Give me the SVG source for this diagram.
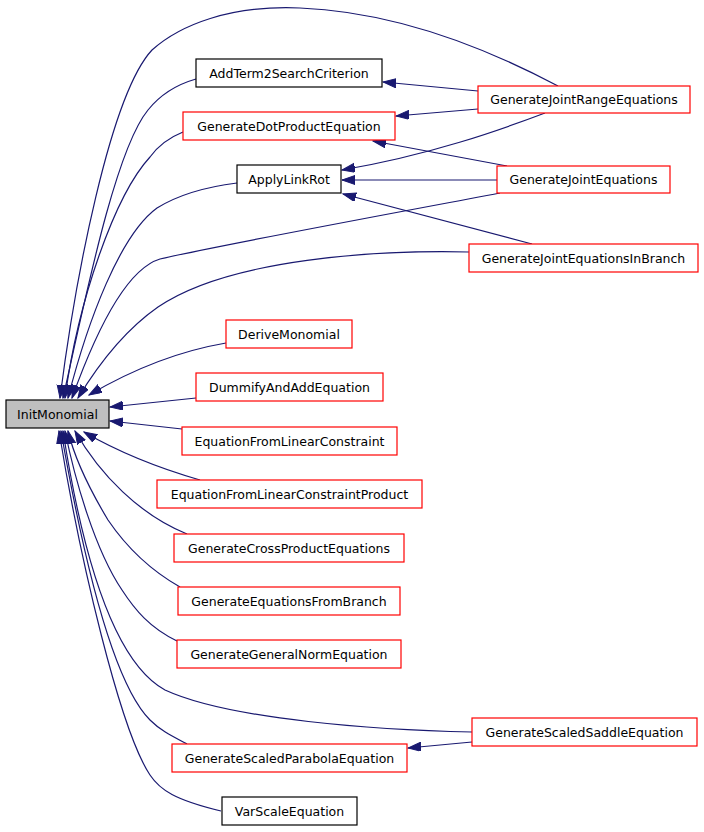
<svg xmlns="http://www.w3.org/2000/svg" width="704" height="832" viewBox="0 0 704 832">
<style>
.n rect{fill:#ffffff;stroke-width:1.2}
.r rect{stroke:#ff0000}
.b rect{stroke:#000000}
.g rect{fill:#bfbfbf;stroke:#000000}
.n text{font-family:"DejaVu Sans",Verdana,sans-serif;font-size:12.5px;fill:#000000;text-anchor:middle}
.e path{fill:none;stroke:#191970;stroke-width:1.2;marker-end:url(#ah)}
</style>
<defs>
<marker id="ah" markerUnits="userSpaceOnUse" markerWidth="14" markerHeight="10" refX="13" refY="4.5" orient="auto">
<path d="M0,0 L13,4.5 L0,9 z" fill="#191970" stroke="#191970" stroke-width="1"/>
</marker>
</defs>
<rect width="704" height="832" fill="#ffffff"/>
<g id="edges" class="e">
<path d="M558,86 C490,50 400,12 300,8 C230,5 180,25 152,50 C110,95 75,280 60,398"/>
<path d="M196,79 C175,85 160,95 148,110 C115,150 85,300 63,398"/>
<path d="M183,132 C168,138 158,146 150,157 C115,195 78,300 65,398"/>
<path d="M237,183 C205,187 178,195 157,208 C120,235 88,320 68,398"/>
<path d="M500,193 C400,212 220,245 160,259 C130,268 100,320 72,398"/>
<path d="M469,252 C380,250 230,258 158,307 C125,330 98,365 78,398"/>
<path d="M226,343 C185,350 140,365 89,395"/>
<path d="M196,398 L110,407"/>
<path d="M182,429 L110,421"/>
<path d="M200,480 C155,467 115,450 84,432"/>
<path d="M187,534 C140,515 100,475 75,431"/>
<path d="M180,587 C150,570 125,545 108,520 C90,490 75,460 68,431"/>
<path d="M177,641 C150,628 135,610 122,590 C95,550 75,480 65,431"/>
<path d="M472,732 C380,730 230,720 165,690 C110,660 80,540 63,431"/>
<path d="M187,744 C170,735 160,730 150,720 C110,680 80,540 61,431"/>
<path d="M221,811 C175,800 160,790 150,775 C120,730 80,560 59,431"/>
<path d="M478,91 L383,82"/>
<path d="M478,109 L396,116"/>
<path d="M545,113 C500,130 430,155 342,170"/>
<path d="M507,166 L373,141"/>
<path d="M497,180 L342,180"/>
<path d="M532,244 L343,194"/>
<path d="M472,742 L408,748"/>
</g>
<g id="InitMonomial" class="n g"><rect x="6" y="400" width="103" height="28"/><text x="57.5" y="418.5">InitMonomial</text></g>
<g id="AddTerm2SearchCriterion" class="n b"><rect x="196" y="59" width="186" height="28"/><text x="289" y="77.5">AddTerm2SearchCriterion</text></g>
<g id="GenerateDotProductEquation" class="n r"><rect x="183" y="112" width="212" height="28"/><text x="289" y="130.5">GenerateDotProductEquation</text></g>
<g id="ApplyLinkRot" class="n b"><rect x="237" y="165" width="104" height="28"/><text x="289" y="183.5">ApplyLinkRot</text></g>
<g id="GenerateJointRangeEquations" class="n r"><rect x="478" y="86" width="212" height="27"/><text x="584" y="104">GenerateJointRangeEquations</text></g>
<g id="GenerateJointEquations" class="n r"><rect x="497" y="166" width="173" height="27"/><text x="583.5" y="184">GenerateJointEquations</text></g>
<g id="GenerateJointEquationsInBranch" class="n r"><rect x="469" y="244" width="229" height="28"/><text x="583.5" y="262.5">GenerateJointEquationsInBranch</text></g>
<g id="DeriveMonomial" class="n r"><rect x="226" y="320" width="126" height="28"/><text x="289" y="338.5">DeriveMonomial</text></g>
<g id="DummifyAndAddEquation" class="n r"><rect x="196" y="373" width="187" height="28"/><text x="289.5" y="391.5">DummifyAndAddEquation</text></g>
<g id="EquationFromLinearConstraint" class="n r"><rect x="182" y="427" width="215" height="28"/><text x="289.5" y="445.5">EquationFromLinearConstraint</text></g>
<g id="EquationFromLinearConstraintProduct" class="n r"><rect x="157" y="480" width="265" height="28"/><text x="289.5" y="498.5">EquationFromLinearConstraintProduct</text></g>
<g id="GenerateCrossProductEquations" class="n r"><rect x="174" y="534" width="230" height="28"/><text x="289" y="552.5">GenerateCrossProductEquations</text></g>
<g id="GenerateEquationsFromBranch" class="n r"><rect x="178" y="587" width="222" height="28"/><text x="289" y="605.5">GenerateEquationsFromBranch</text></g>
<g id="GenerateGeneralNormEquation" class="n r"><rect x="177" y="640" width="224" height="28"/><text x="289" y="658.5">GenerateGeneralNormEquation</text></g>
<g id="GenerateScaledSaddleEquation" class="n r"><rect x="472" y="718" width="225" height="28"/><text x="584.5" y="736.5">GenerateScaledSaddleEquation</text></g>
<g id="GenerateScaledParabolaEquation" class="n r"><rect x="172" y="744" width="235" height="28"/><text x="289.5" y="762.5">GenerateScaledParabolaEquation</text></g>
<g id="VarScaleEquation" class="n b"><rect x="222" y="797" width="135" height="28"/><text x="289.5" y="815.5">VarScaleEquation</text></g>
</svg>
